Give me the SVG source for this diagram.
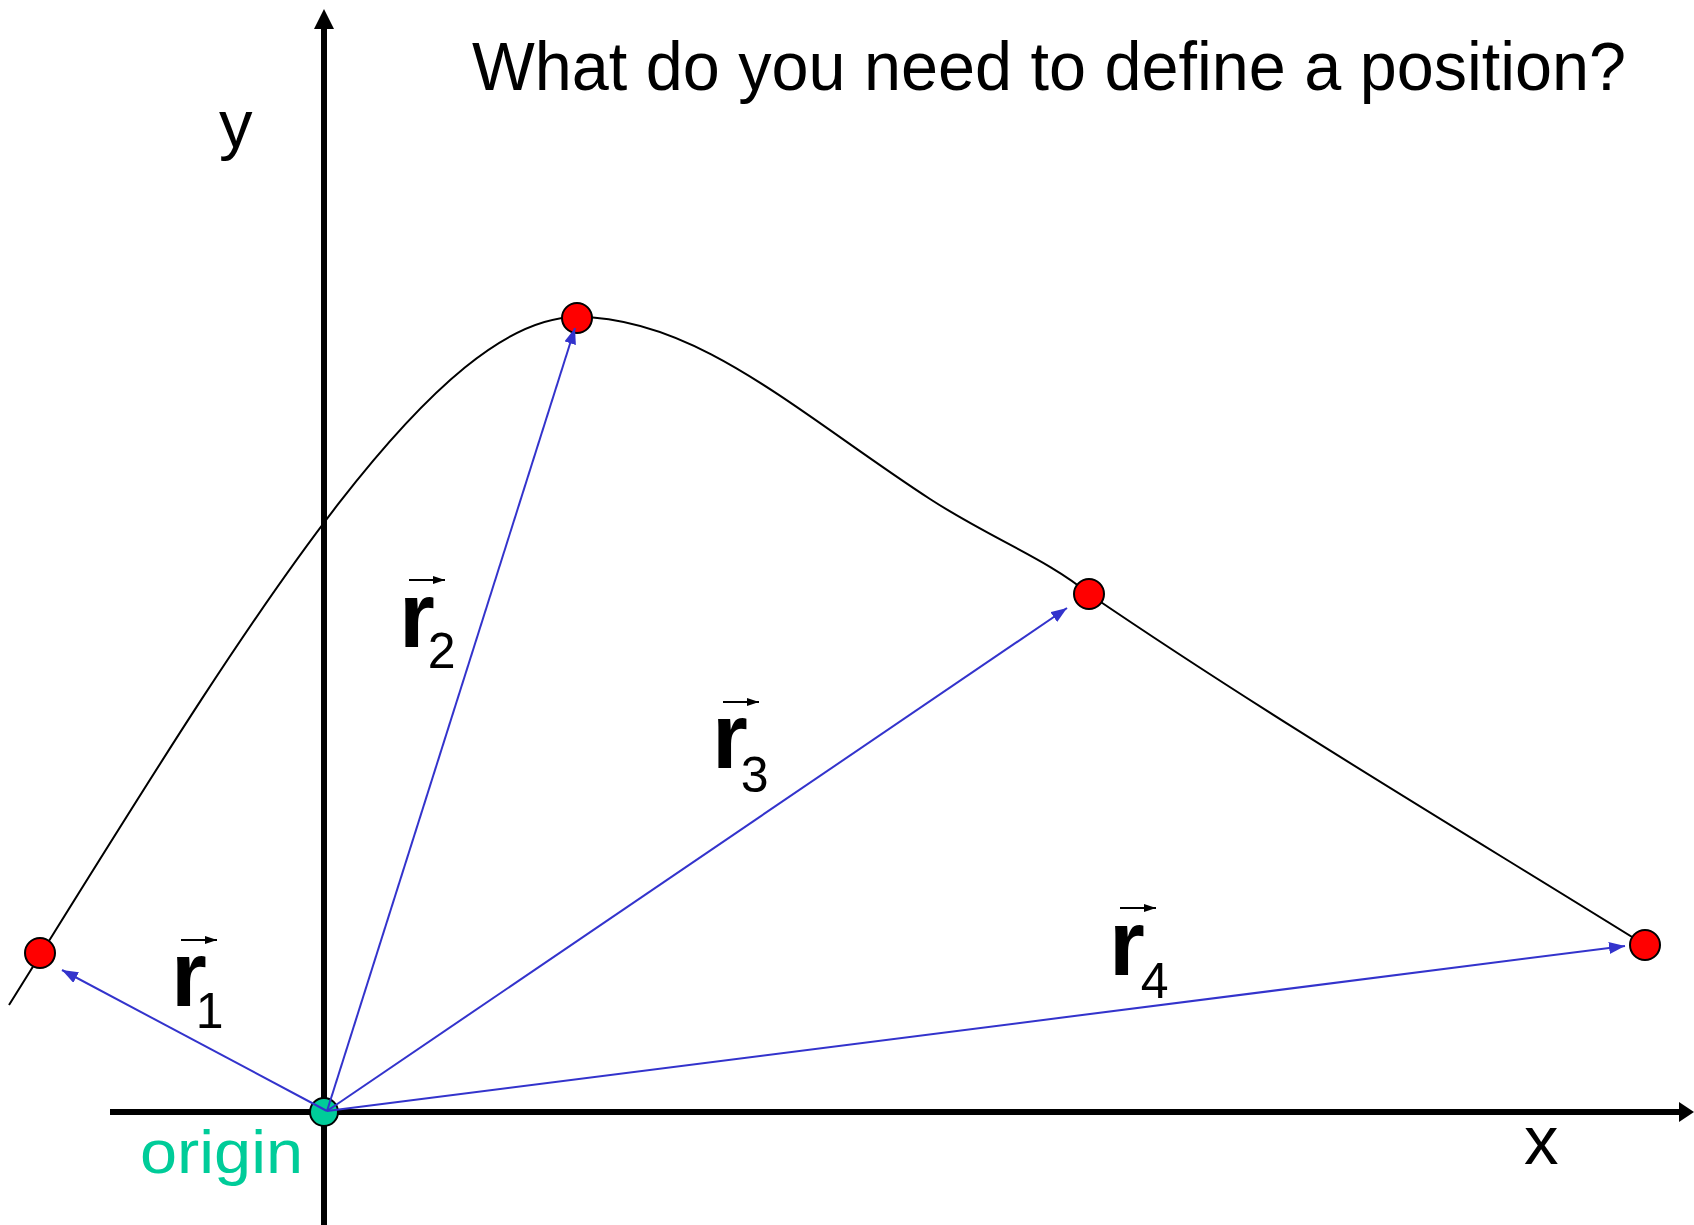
<svg xmlns="http://www.w3.org/2000/svg" width="1694" height="1225" viewBox="0 0 1694 1225">
<style>
.axis{stroke:#000;stroke-width:6;fill:none}
.curve{stroke:#000;stroke-width:2;fill:none}
.vec{stroke:#3333CC;stroke-width:2;fill:none;marker-end:url(#bh)}
.dot{fill:#FF0000;stroke:#000;stroke-width:2}
.org{fill:#00CC99;stroke:#000;stroke-width:2}
.lbl{font-family:"Liberation Sans",Arial,sans-serif;fill:#000}
.r{font-family:"Liberation Sans",Arial,sans-serif;font-weight:bold;font-size:92px;fill:#000}
.sub{font-weight:normal;font-size:50px}
.over{stroke:#000;stroke-width:2;fill:none;marker-end:url(#sh)}
</style>
<defs>
<marker id="bh" viewBox="0 0 16 12" refX="16" refY="6" markerWidth="16" markerHeight="12" markerUnits="userSpaceOnUse" orient="auto">
<path d="M0,0 L16,6 L0,12 z" fill="#3333CC"/>
</marker>
<marker id="sh" viewBox="0 0 12 8" refX="12" refY="4" markerWidth="12" markerHeight="8" markerUnits="userSpaceOnUse" orient="auto">
<path d="M0,0 L12,4 L0,8 z" fill="#000"/>
</marker>
</defs>
<rect width="1694" height="1225" fill="#fff"/>

<g id="axes">
<line class="axis" x1="324" y1="1225" x2="324" y2="26"/>
<polygon points="324,9 314,29 334,29" fill="#000"/>
<line class="axis" x1="110" y1="1112" x2="1682" y2="1112"/>
<polygon points="1694,1112 1679,1102 1679,1122" fill="#000"/>
</g>

<g id="trajectory">
<path class="curve" d="M9,1005 C229,653 427,317 577,317 C697,317 800,414.5 930,499 C990,538 1049,560 1089,594 C1274,720 1460,830 1645,945"/>
</g>

<g id="origin">
<circle class="org" cx="324" cy="1112" r="14"/>
<text class="lbl" x="140" y="1173" font-size="62" style="fill:#00CC99" textLength="163" lengthAdjust="spacingAndGlyphs">origin</text>
</g>
<g id="p1"><circle class="dot" cx="40" cy="953" r="15"/></g>
<g id="p2"><circle class="dot" cx="577" cy="318" r="15"/></g>
<g id="p3"><circle class="dot" cx="1089" cy="594" r="15"/></g>
<g id="p4"><circle class="dot" cx="1645" cy="945" r="15"/></g>

<g id="connectors">
<line class="vec" x1="327" y1="1111" x2="62" y2="970"/>
<line class="vec" x1="327" y1="1111" x2="575" y2="328"/>
<line class="vec" x1="327" y1="1111" x2="1067" y2="608"/>
<line class="vec" x1="327" y1="1111" x2="1625" y2="946"/>
</g>

<g id="label-r1">
<line class="over" x1="181" y1="940" x2="217" y2="940"/>
<text class="r" x="171" y="1006">r<tspan class="sub" dx="-11" dy="22">1</tspan></text>
</g>
<g id="label-r2">
<line class="over" x1="409" y1="580" x2="445" y2="580"/>
<text class="r" x="399" y="647">r<tspan class="sub" dx="-7" dy="21">2</tspan></text>
</g>
<g id="label-r3">
<line class="over" x1="723" y1="702" x2="759" y2="702"/>
<text class="r" x="712" y="768">r<tspan class="sub" dx="-7" dy="24">3</tspan></text>
</g>
<g id="label-r4">
<line class="over" x1="1120" y1="908" x2="1156" y2="908"/>
<text class="r" x="1109" y="975">r<tspan class="sub" dx="-4" dy="23">4</tspan></text>
</g>

<g id="axis-labels">
<text class="lbl" x="219" y="147" font-size="67">y</text>
<text class="lbl" x="1524" y="1164" font-size="69">x</text>
</g>

<g id="title">
<text class="lbl" x="472" y="90" font-size="68" textLength="1154" lengthAdjust="spacingAndGlyphs">What do you need to define a position?</text>
</g>
</svg>
